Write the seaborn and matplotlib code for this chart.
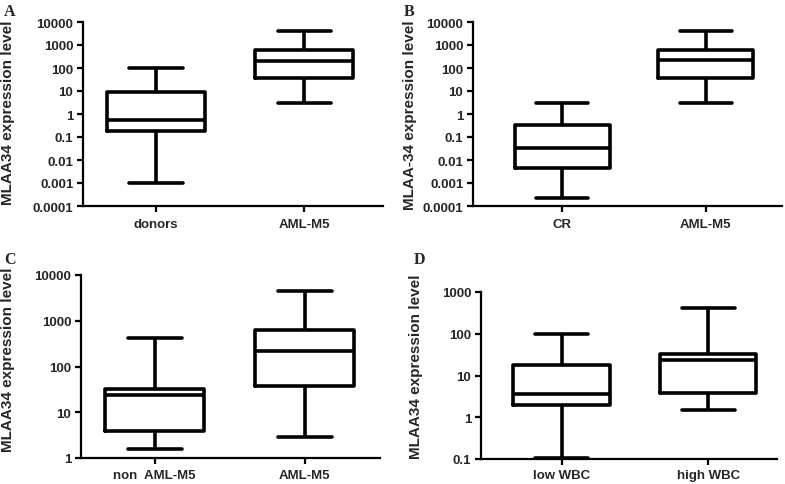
import pandas as pd
import numpy as np
import seaborn as sns
import matplotlib
matplotlib.use("Agg")
import matplotlib.pyplot as plt
from matplotlib.ticker import FixedLocator, FixedFormatter, NullLocator

# Box statistics: [lower whisker, Q1, median, Q3, upper whisker]
a_groups = ["donors", "AML-M5"]
a_donors = [0.001, 0.18, 0.55, 9.0, 100]
a_aml = [2.9, 35, 210, 600, 4100]

b_groups = ["CR", "AML-M5"]
b_cr = [0.00022, 0.0046, 0.032, 0.33, 3.1]
b_aml = [2.9, 37, 220, 620, 4200]

c_groups = ["non  AML-M5", "AML-M5"]
c_non = [1.58, 3.9, 23.5, 33, 425]
c_aml = [2.95, 37, 222, 630, 4450]

d_groups = ["low WBC", "high WBC"]
d_low = [0.105, 2.0, 3.7, 18, 100]
d_high = [1.5, 3.8, 23, 32, 420]

ticks_ab = [0.0001, 0.001, 0.01, 0.1, 1, 10, 100, 1000, 10000]
labels_ab = ["0.0001", "0.001", "0.01", "0.1", "1", "10", "100", "1000", "10000"]
ticks_c = [1, 10, 100, 1000, 10000]
labels_c = ["1", "10", "100", "1000", "10000"]
ticks_d = [0.1, 1, 10, 100, 1000]
labels_d = ["0.1", "1", "10", "100", "1000"]

ylabel_main = "MLAA34 expression level"
ylabel_b = "MLAA-34 expression level"

sns.set_style("white")
plt.rcParams["font.family"] = ["Liberation Sans", "DejaVu Sans"]
plt.rcParams["font.weight"] = "bold"

W, H = 785, 485
fig = plt.figure(figsize=(W / 100, H / 100), dpi=100)


def px_axes(left, right, top, bottom):
    return fig.add_axes([left / W, 1 - bottom / H, (right - left) / W, (bottom - top) / H])


def box_panel(ax, groups, series, ticks, labels, ylabel, xlim, label_xy, xpad=4):
    df = pd.DataFrame({
        "group": np.repeat(groups, [len(s) for s in series]),
        "value": np.concatenate(series),
    })
    sns.boxplot(data=df, x="group", y="value", order=groups, ax=ax,
                log_scale=True, whis=(0, 100), fill=False, color="black",
                linewidth=2.6, width=0.66, capwidths=0.36)
    ax.set_ylim(ticks[0], ticks[-1])
    ax.set_xlim(*xlim)
    ax.yaxis.set_major_locator(FixedLocator(ticks))
    ax.yaxis.set_major_formatter(FixedFormatter(labels))
    ax.yaxis.set_minor_locator(NullLocator())
    ax.set_xlabel("")
    ax.set_ylabel(ylabel, fontsize=11, fontweight="bold")
    ax.yaxis.set_label_coords(*label_xy)
    for side in ["top", "right"]:
        ax.spines[side].set_visible(False)
    for side in ["left", "bottom"]:
        ax.spines[side].set_linewidth(1.6)
        ax.spines[side].set_color("black")
    ax.tick_params(axis="both", which="major", direction="out", length=4,
                   width=1.6, color="black", left=True, bottom=True)
    ax.tick_params(axis="y", labelsize=9.5, pad=3)
    ax.tick_params(axis="x", labelsize=9.5, pad=xpad)
    for t in ax.get_xticklabels() + ax.get_yticklabels():
        t.set_fontweight("bold")


ax_a = px_axes(83, 383, 23, 207)
box_panel(ax_a, a_groups, [a_donors, a_aml], ticks_ab, labels_ab,
          ylabel_main, (-0.49, 1.53), (-0.227, 0.51), xpad=5)

ax_b = px_axes(473, 782, 23, 207)
box_panel(ax_b, b_groups, [b_cr, b_aml], ticks_ab, labels_ab,
          ylabel_b, (-0.62, 1.53), (-0.18, 0.5), xpad=5)

ax_c = px_axes(81, 380, 276, 459)
box_panel(ax_c, c_groups, [c_non, c_aml], ticks_c, labels_c,
          ylabel_main, (-0.49, 1.5), (-0.22, 0.54), xpad=4)

ax_d = px_axes(481, 777, 293, 460)
box_panel(ax_d, d_groups, [d_low, d_high], ticks_d, labels_d,
          ylabel_main, (-0.55, 1.47), (-0.196, 0.56), xpad=3)

# Panel letters
for letter, x, y in [("A", 4, 4), ("B", 404, 4), ("C", 4, 252), ("D", 414, 252)]:
    fig.text(x / W, 1 - y / H, letter, ha="left", va="top", fontsize=11.5,
             fontweight="bold", family=["Liberation Serif", "DejaVu Serif"])

fig.savefig("out.png", dpi=100, facecolor="white")
